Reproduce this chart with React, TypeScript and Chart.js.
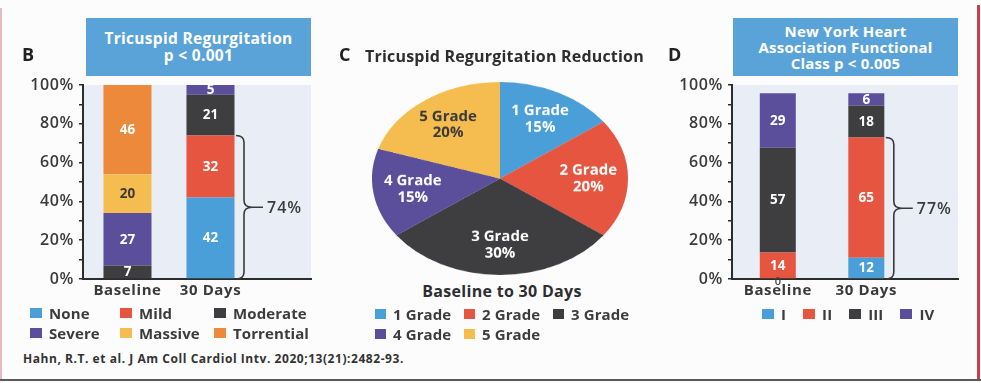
import React, { useEffect, useRef } from 'react';
import { Chart, registerables } from 'chart.js';

Chart.register(...registerables);

const SANS = "'Open Sans', 'Noto Sans', sans-serif";

// ---- Panel B: tricuspid regurgitation grade (%) ----
const trCategories = ['Baseline', '30 Days'];
const trGrades = ['None', 'Mild', 'Moderate', 'Severe', 'Massive', 'Torrential'];
const trNone = [0, 42];
const trMild = [0, 32];
const trModerate = [7, 21];
const trSevere = [27, 5];
const trMassive = [20, 0];
const trTorrential = [46, 0];
const trBraceText = '74%';

// ---- Panel C: regurgitation reduction, baseline to 30 days (%) ----
const reductionGrades = ['1 Grade', '2 Grade', '3 Grade', '4 Grade', '5 Grade'];
const reductionShare = [15, 20, 30, 15, 20];

// ---- Panel D: NYHA functional class ----
const nyhaCategories = ['Baseline', '30 Days'];
const nyhaClasses = ['I', 'II', 'III', 'IV'];
// bar heights as drawn (% of axis)
const nyhaI = [0, 11.0];
const nyhaII = [13.6, 61.9];
const nyhaIII = [54.1, 16.5];
const nyhaIV = [28.0, 6.4];
// printed values
const nyhaILabel = [0, 12];
const nyhaIILabel = [14, 65];
const nyhaIIILabel = [57, 18];
const nyhaIVLabel = [29, 6];
const nyhaBraceText = '77%';

const BLUE = '#4b9fd8';
const RED = '#e5553f';
const DARK = '#3e3e40';
const PURPLE = '#5b4f9c';
const YELLOW = '#f5bd4f';
const ORANGE = '#ec893b';
const HEADER = '#5aa3d8';
const PLOT_BG = '#e9eef6';
const AXIS = '#2c2c2c';
const TEXT = '#3a3a3a';

const trColors = [BLUE, RED, DARK, PURPLE, YELLOW, ORANGE];
const trTextColors = ['#fff', '#fff', '#fff', '#fff', '#3a3a3a', '#fff'];
const reductionColors = [BLUE, RED, DARK, PURPLE, YELLOW];
const reductionTextColors = ['#fff', '#fff', '#fff', '#fff', '#3a3a3a'];
const nyhaColors = [BLUE, RED, DARK, PURPLE];

const PIE_SQUASH = 193 / 256;

const plotBackground = {
  id: 'plotBackground',
  beforeDraw(chart: any, _a: any, opts: any) {
    const { ctx, chartArea } = chart;
    ctx.save();
    ctx.fillStyle = opts.color;
    ctx.fillRect(chartArea.left, chartArea.top, chartArea.right - chartArea.left, chartArea.bottom - chartArea.top);
    ctx.restore();
    ctx.letterSpacing = opts.letterSpacing || '0px';
  },
};

const barText = {
  id: 'barText',
  afterDatasetsDraw(chart: any, _a: any, opts: any) {
    const ctx = chart.ctx;
    ctx.save();
    ctx.letterSpacing = '0px';
    ctx.textAlign = 'center';
    ctx.textBaseline = 'middle';
    opts.labels.forEach((row: (number | null)[], di: number) => {
      const meta = chart.getDatasetMeta(di);
      meta.data.forEach((bar: any, i: number) => {
        const v = row[i];
        if (v === null || v === undefined) return;
        const p = bar.getProps(['x', 'y', 'base'], true);
        if (v === 0) {
          ctx.font = `600 11px ${SANS}`;
          ctx.fillStyle = opts.zeroColor;
          ctx.fillText('0', p.x, p.base + 3);
          return;
        }
        ctx.font = `700 13.5px ${SANS}`;
        ctx.fillStyle = opts.colors[di];
        ctx.fillText(String(v), p.x, (p.y + p.base) / 2 + 0.5);
      });
    });
    ctx.restore();
  },
};

const brace = {
  id: 'brace',
  afterDatasetsDraw(chart: any, _a: any, opts: any) {
    const { ctx } = chart;
    const y = chart.scales.y;
    const idx = opts.index;
    const total = opts.datasets.reduce((s: number, di: number) => s + chart.data.datasets[di].data[idx].y, 0);
    const bar = chart.getDatasetMeta(0).data[idx].getProps(['x', 'width'], true);
    const yT = y.getPixelForValue(total);
    const yB = y.getPixelForValue(0);
    const x0 = bar.x + bar.width / 2 + 1.5;
    const d = 8;
    const r = 7;
    const ym = (yT + yB) / 2;
    ctx.save();
    ctx.strokeStyle = opts.color;
    ctx.lineWidth = 1.6;
    ctx.beginPath();
    ctx.moveTo(x0, yT);
    ctx.quadraticCurveTo(x0 + d, yT, x0 + d, yT + r);
    ctx.lineTo(x0 + d, ym - r);
    ctx.quadraticCurveTo(x0 + d, ym, x0 + 2 * d, ym);
    ctx.quadraticCurveTo(x0 + d, ym, x0 + d, ym + r);
    ctx.lineTo(x0 + d, yB - r);
    ctx.quadraticCurveTo(x0 + d, yB, x0, yB);
    ctx.moveTo(x0 + 2 * d, ym);
    ctx.lineTo(x0 + 2 * d + 11, ym);
    ctx.stroke();
    ctx.font = `600 16px ${SANS}`;
    ctx.letterSpacing = '1px';
    ctx.fillStyle = opts.color;
    ctx.textAlign = 'left';
    ctx.textBaseline = 'middle';
    ctx.fillText(opts.text, x0 + 2 * d + 15, ym + 1);
    ctx.restore();
  },
};

const pieText = {
  id: 'pieText',
  afterDatasetsDraw(chart: any, _a: any, opts: any) {
    const ctx = chart.ctx;
    const meta = chart.getDatasetMeta(0);
    meta.data.forEach((arc: any, i: number) => {
      const p = arc.getProps(['x', 'y', 'startAngle', 'endAngle', 'outerRadius'], true);
      const mid = (p.startAngle + p.endAngle) / 2;
      const r = p.outerRadius * opts.radius;
      const px = p.x + Math.cos(mid) * r;
      const py = p.y + Math.sin(mid) * r;
      ctx.save();
      ctx.translate(px, py);
      ctx.scale(1, 1 / opts.squash);
      ctx.font = `700 15px ${SANS}`;
      ctx.fillStyle = opts.colors[i];
      ctx.textAlign = 'center';
      ctx.textBaseline = 'middle';
      ctx.fillText(chart.data.labels[i], 0, -8);
      ctx.fillText(`${chart.data.datasets[0].data[i]}%`, 0, 8.5);
      ctx.restore();
    });
  },
};

type Series = { label: string; data: number[]; color: string };

function StackedBars(props: {
  left: number; top: number; width: number; height: number;
  categories: string[]; series: Series[]; labels: (number | null)[][]; textColors: string[];
  xMin: number; xMax: number; barPct: number; yWidth: number; padRight: number;
  braceDatasets: number[]; braceText: string;
}) {
  const ref = useRef<HTMLCanvasElement>(null);
  useEffect(() => {
    const p = props;
    const chart = new Chart(ref.current as HTMLCanvasElement, {
      type: 'bar',
      data: {
        datasets: p.series.map((s) => ({
          label: s.label,
          data: s.data.map((v, i) => ({ x: i, y: v })),
          backgroundColor: s.color,
          borderWidth: 0,
          barPercentage: p.barPct,
          categoryPercentage: 0.9,
        })),
      },
      options: {
        animation: false,
        responsive: false,
        layout: { padding: { left: 0, top: 25, right: p.padRight, bottom: 7 } },
        plugins: {
          legend: { display: false },
          tooltip: { enabled: false },
          plotBackground: { color: PLOT_BG, letterSpacing: '0.6px' },
          barText: { labels: p.labels, colors: p.textColors, zeroColor: '#444' },
          brace: { index: 1, datasets: p.braceDatasets, text: p.braceText, color: '#3a3a3a' },
        } as any,
        scales: {
          x: {
            type: 'linear',
            stacked: true,
            offset: false,
            min: p.xMin,
            max: p.xMax,
            afterBuildTicks: (s: any) => { s.ticks = p.categories.map((_, i) => ({ value: i })); },
            afterFit: (s: any) => { s.height = 24; s.paddingLeft = 0; s.paddingRight = 0; s.paddingTop = 0; s.paddingBottom = 0; },
            grid: { display: false, drawTicks: false },
            border: { display: true, color: AXIS, width: 2 },
            ticks: {
              autoSkip: false,
              maxRotation: 0,
              padding: 3,
              color: TEXT,
              font: { family: SANS, size: 15, weight: '700' },
              callback: (v: any) => p.categories[v] ?? '',
            },
          },
          y: {
            stacked: true,
            min: 0,
            max: 100,
            afterFit: (s: any) => { s.width = p.yWidth; s.paddingTop = 0; s.paddingBottom = 0; },
            grid: { drawOnChartArea: false, drawTicks: true, tickLength: 4, color: AXIS, lineWidth: 1.5 },
            border: { color: AXIS, width: 2 },
            ticks: {
              stepSize: 10,
              autoSkip: false,
              padding: 5,
              color: TEXT,
              font: { family: SANS, size: 16, weight: '600' },
              callback: (v: any) => (v % 20 === 0 ? `${v}%` : ''),
            },
          },
        },
      } as any,
      plugins: [plotBackground, barText, brace],
    });
    return () => chart.destroy();
  }, []);
  return (
    <canvas
      ref={ref}
      width={props.width}
      height={props.height}
      style={{ position: 'absolute', left: props.left, top: props.top }}
    />
  );
}

function ReductionPie() {
  const ref = useRef<HTMLCanvasElement>(null);
  useEffect(() => {
    const chart = new Chart(ref.current as HTMLCanvasElement, {
      type: 'pie',
      data: {
        labels: reductionGrades,
        datasets: [{ data: reductionShare, backgroundColor: reductionColors, borderWidth: 0 }],
      },
      options: {
        animation: false,
        responsive: false,
        layout: { padding: 0 },
        plugins: {
          legend: { display: false },
          tooltip: { enabled: false },
          pieText: { radius: 0.69, squash: PIE_SQUASH, colors: reductionTextColors },
        } as any,
      } as any,
      plugins: [pieText],
    });
    return () => chart.destroy();
  }, []);
  return (
    <canvas
      ref={ref}
      width={256}
      height={256}
      style={{ position: 'absolute', left: 372, top: 82, transform: `scaleY(${PIE_SQUASH})`, transformOrigin: '0 0' }}
    />
  );
}

function Legend(props: { items: { label: string; color: string }[]; style: React.CSSProperties; boxW: number }) {
  return (
    <div style={{ position: 'absolute', ...props.style }}>
      {props.items.map((it) => (
        <div key={it.label} style={{ display: 'flex', alignItems: 'center', height: 20, whiteSpace: 'nowrap' }}>
          <span style={{ display: 'inline-block', width: props.boxW, height: 10, background: it.color, marginRight: 7 }} />
          <span>{it.label}</span>
        </div>
      ))}
    </div>
  );
}

const abs = (s: React.CSSProperties): React.CSSProperties => ({ position: 'absolute', ...s });

export default function App() {
  const trSeries: Series[] = [
    { label: trGrades[0], data: trNone, color: trColors[0] },
    { label: trGrades[1], data: trMild, color: trColors[1] },
    { label: trGrades[2], data: trModerate, color: trColors[2] },
    { label: trGrades[3], data: trSevere, color: trColors[3] },
    { label: trGrades[4], data: trMassive, color: trColors[4] },
    { label: trGrades[5], data: trTorrential, color: trColors[5] },
  ];
  const trLabels = trSeries.map((s) => s.data.map((v) => (v > 0 ? v : null)));

  const nyhaSeries: Series[] = [
    { label: nyhaClasses[0], data: nyhaI, color: nyhaColors[0] },
    { label: nyhaClasses[1], data: nyhaII, color: nyhaColors[1] },
    { label: nyhaClasses[2], data: nyhaIII, color: nyhaColors[2] },
    { label: nyhaClasses[3], data: nyhaIV, color: nyhaColors[3] },
  ];
  const nyhaLabels = [nyhaILabel, nyhaIILabel, nyhaIIILabel, nyhaIVLabel];

  const legendText: React.CSSProperties = { fontSize: 15, fontWeight: 700, color: '#3c3c3c', letterSpacing: '0.1px' };

  return (
    <div
      style={{
        position: 'absolute', left: 0, top: 0, width: 981, height: 383, overflow: 'hidden',
        background: '#fcfcfc', fontFamily: SANS,
      }}
    >
      <div style={abs({ left: 0, top: 8, width: 2, height: 372, background: '#e9b9bd' })} />
      <div style={abs({ left: 977, top: 5, width: 2.5, height: 375, background: '#c8404c' })} />
      <div style={abs({ left: 0, top: 379, width: 981, height: 2, background: '#5a5a5a' })} />

      <StackedBars
        left={0} top={60} width={330} height={250}
        categories={trCategories} series={trSeries} labels={trLabels} textColors={trTextColors}
        xMin={-0.536} xMax={2.211} barPct={0.643} yWidth={83} padRight={19}
        braceDatasets={[0, 1]} braceText={trBraceText}
      />
      <ReductionPie />
      <StackedBars
        left={660} top={60} width={321} height={250}
        categories={nyhaCategories} series={nyhaSeries} labels={nyhaLabels} textColors={['#fff', '#fff', '#fff', '#fff']}
        xMin={-0.5175} xMax={2.036} barPct={0.452} yWidth={72} padRight={23}
        braceDatasets={[0, 1]} braceText={nyhaBraceText}
      />

      {/* Panel letters and titles */}
      <div style={abs({ left: 22, top: 45, fontSize: 18, lineHeight: '18px', fontWeight: 700, color: '#222' })}>B</div>
      <div style={abs({ left: 339, top: 45, fontSize: 18, lineHeight: '18px', fontWeight: 700, color: '#222' })}>C</div>
      <div style={abs({ left: 668, top: 45, fontSize: 18, lineHeight: '18px', fontWeight: 700, color: '#222' })}>D</div>

      <div
        style={abs({
          left: 86, top: 18, width: 225, height: 58, background: HEADER, color: '#fff', fontWeight: 700,
          fontSize: 15.5, lineHeight: '17px', letterSpacing: '0.3px', display: 'flex', flexDirection: 'column', justifyContent: 'center', alignItems: 'center', textAlign: 'center',
        })}
      >
        <div>Tricuspid Regurgitation</div>
        <div>p &lt; 0.001</div>
      </div>
      <div
        style={abs({
          left: 733, top: 18, width: 225, height: 58, background: HEADER, color: '#fff', fontWeight: 700,
          fontSize: 15, lineHeight: '16px', letterSpacing: '0.2px', display: 'flex', flexDirection: 'column', justifyContent: 'center', alignItems: 'center', textAlign: 'center',
        })}
      >
        <div>New York Heart</div>
        <div>Association Functional</div>
        <div>Class p &lt; 0.005</div>
      </div>

      <div style={abs({ left: 365, top: 48, fontSize: 16, lineHeight: '16px', fontWeight: 700, color: '#2e2e2e', whiteSpace: 'nowrap', letterSpacing: '0.2px' })}>
        Tricuspid Regurgitation Reduction
      </div>
      <div style={abs({ left: 392, width: 220, top: 283, fontSize: 16, lineHeight: '16px', fontWeight: 700, color: '#2e2e2e', textAlign: 'center', letterSpacing: '0.3px' })}>
        Baseline to 30 Days
      </div>

      <Legend
        items={trGrades.map((g, i) => ({ label: g, color: trColors[i] }))}
        boxW={12}
        style={{ left: 30, top: 303, display: 'grid', gridTemplateColumns: '90px 94px auto', ...legendText }}
      />
      <Legend
        items={reductionGrades.map((g, i) => ({ label: g, color: reductionColors[i] }))}
        boxW={11}
        style={{ left: 375, top: 304, display: 'grid', gridTemplateColumns: '89px 89px auto', ...legendText }}
      />
      <Legend
        items={nyhaClasses.map((g, i) => ({ label: g, color: nyhaColors[i] }))}
        boxW={12}
        style={{ left: 762, top: 304, display: 'flex', gap: 17, ...legendText }}
      />

      <div style={abs({ left: 23, top: 353, fontSize: 12, lineHeight: '12px', fontWeight: 700, color: '#333', whiteSpace: 'nowrap', letterSpacing: '0.55px' })}>
        Hahn, R.T. et al. J Am Coll Cardiol Intv. 2020;13(21):2482-93.
      </div>
    </div>
  );
}
